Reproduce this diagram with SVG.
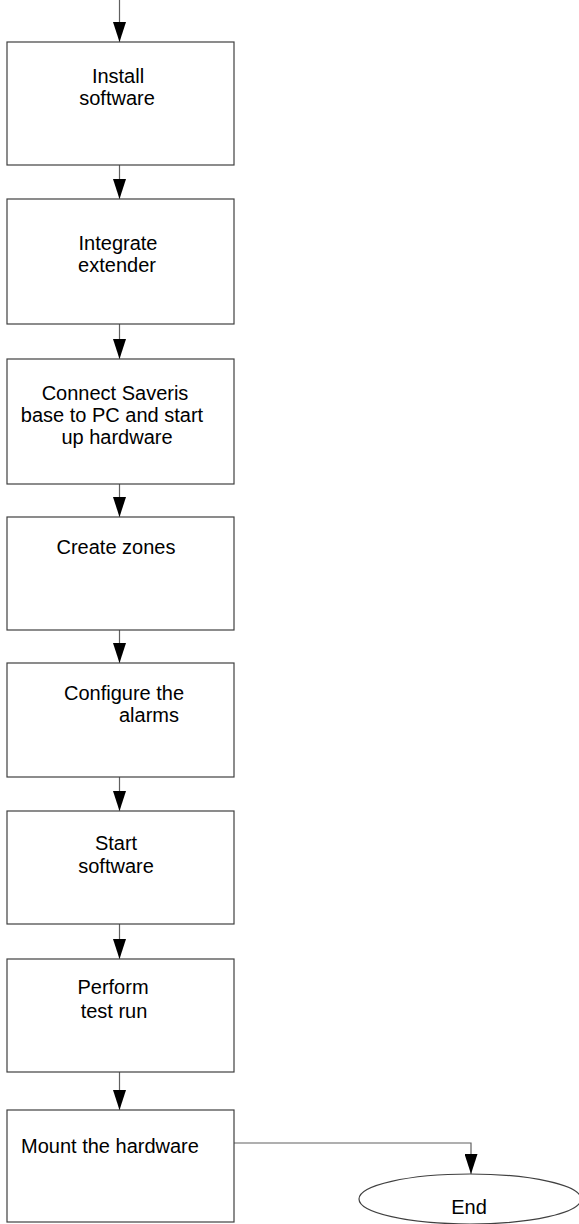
<svg xmlns="http://www.w3.org/2000/svg" width="579" height="1224" viewBox="0 0 579 1224">
<style>
  .box{fill:#ffffff;stroke:#404040;stroke-width:1.2}
  .t{font-family:"Liberation Sans",Arial,sans-serif;font-size:20px;fill:#000000;text-anchor:middle}
  .tl{font-family:"Liberation Sans",Arial,sans-serif;font-size:20px;fill:#000000}
  .c{fill:none;stroke:#606060;stroke-width:1.2}
</style>
<defs>
  <marker id="ah" viewBox="0 0 20 13" refX="20" refY="6.5" markerWidth="20" markerHeight="13" markerUnits="userSpaceOnUse" orient="auto">
    <path d="M0,0 L20,6.5 L0,13 z" fill="#000000"/>
  </marker>
</defs>
<rect width="579" height="1224" fill="#ffffff"/>
<g id="connectors">
  <path class="c" d="M119.5,0 L119.5,42" marker-end="url(#ah)"/>
  <path class="c" d="M119.5,165 L119.5,199" marker-end="url(#ah)"/>
  <path class="c" d="M119.5,324 L119.5,359" marker-end="url(#ah)"/>
  <path class="c" d="M119.5,484 L119.5,517" marker-end="url(#ah)"/>
  <path class="c" d="M119.5,630 L119.5,663" marker-end="url(#ah)"/>
  <path class="c" d="M119.5,777 L119.5,811" marker-end="url(#ah)"/>
  <path class="c" d="M119.5,924 L119.5,959" marker-end="url(#ah)"/>
  <path class="c" d="M119.5,1072 L119.5,1110" marker-end="url(#ah)"/>
  <path class="c" d="M234,1143 L471,1143 L471,1174" marker-end="url(#ah)"/>
</g>
<g id="n1">
  <rect class="box" x="7" y="42" width="227" height="123"/>
  <text class="t" x="118" y="83">Install</text>
  <text class="t" x="117" y="105">software</text>
</g>
<g id="n2">
  <rect class="box" x="7" y="199" width="227" height="125"/>
  <text class="t" x="118" y="250">Integrate</text>
  <text class="t" x="117" y="272">extender</text>
</g>
<g id="n3">
  <rect class="box" x="7" y="359" width="227" height="125"/>
  <text class="t" x="115" y="400">Connect Saveris</text>
  <text class="t" x="112" y="422">base to PC and start</text>
  <text class="t" x="117" y="444">up hardware</text>
</g>
<g id="n4">
  <rect class="box" x="7" y="517" width="227" height="113"/>
  <text class="t" x="116" y="554">Create zones</text>
</g>
<g id="n5">
  <rect class="box" x="7" y="663" width="227" height="114"/>
  <text class="t" x="124" y="700">Configure the</text>
  <text class="t" x="149" y="722">alarms</text>
</g>
<g id="n6">
  <rect class="box" x="7" y="811" width="227" height="113"/>
  <text class="t" x="116" y="850">Start</text>
  <text class="t" x="116" y="873">software</text>
</g>
<g id="n7">
  <rect class="box" x="7" y="959" width="227" height="113"/>
  <text class="t" x="113" y="994">Perform</text>
  <text class="t" x="114" y="1018">test run</text>
</g>
<g id="n8">
  <rect class="box" x="7" y="1110" width="227" height="112"/>
  <text class="tl" x="21" y="1153">Mount the hardware</text>
</g>
<g id="end">
  <ellipse cx="470" cy="1199" rx="111" ry="25" fill="#ffffff" stroke="#404040" stroke-width="1.2"/>
  <text class="t" x="469" y="1214">End</text>
</g>
</svg>
